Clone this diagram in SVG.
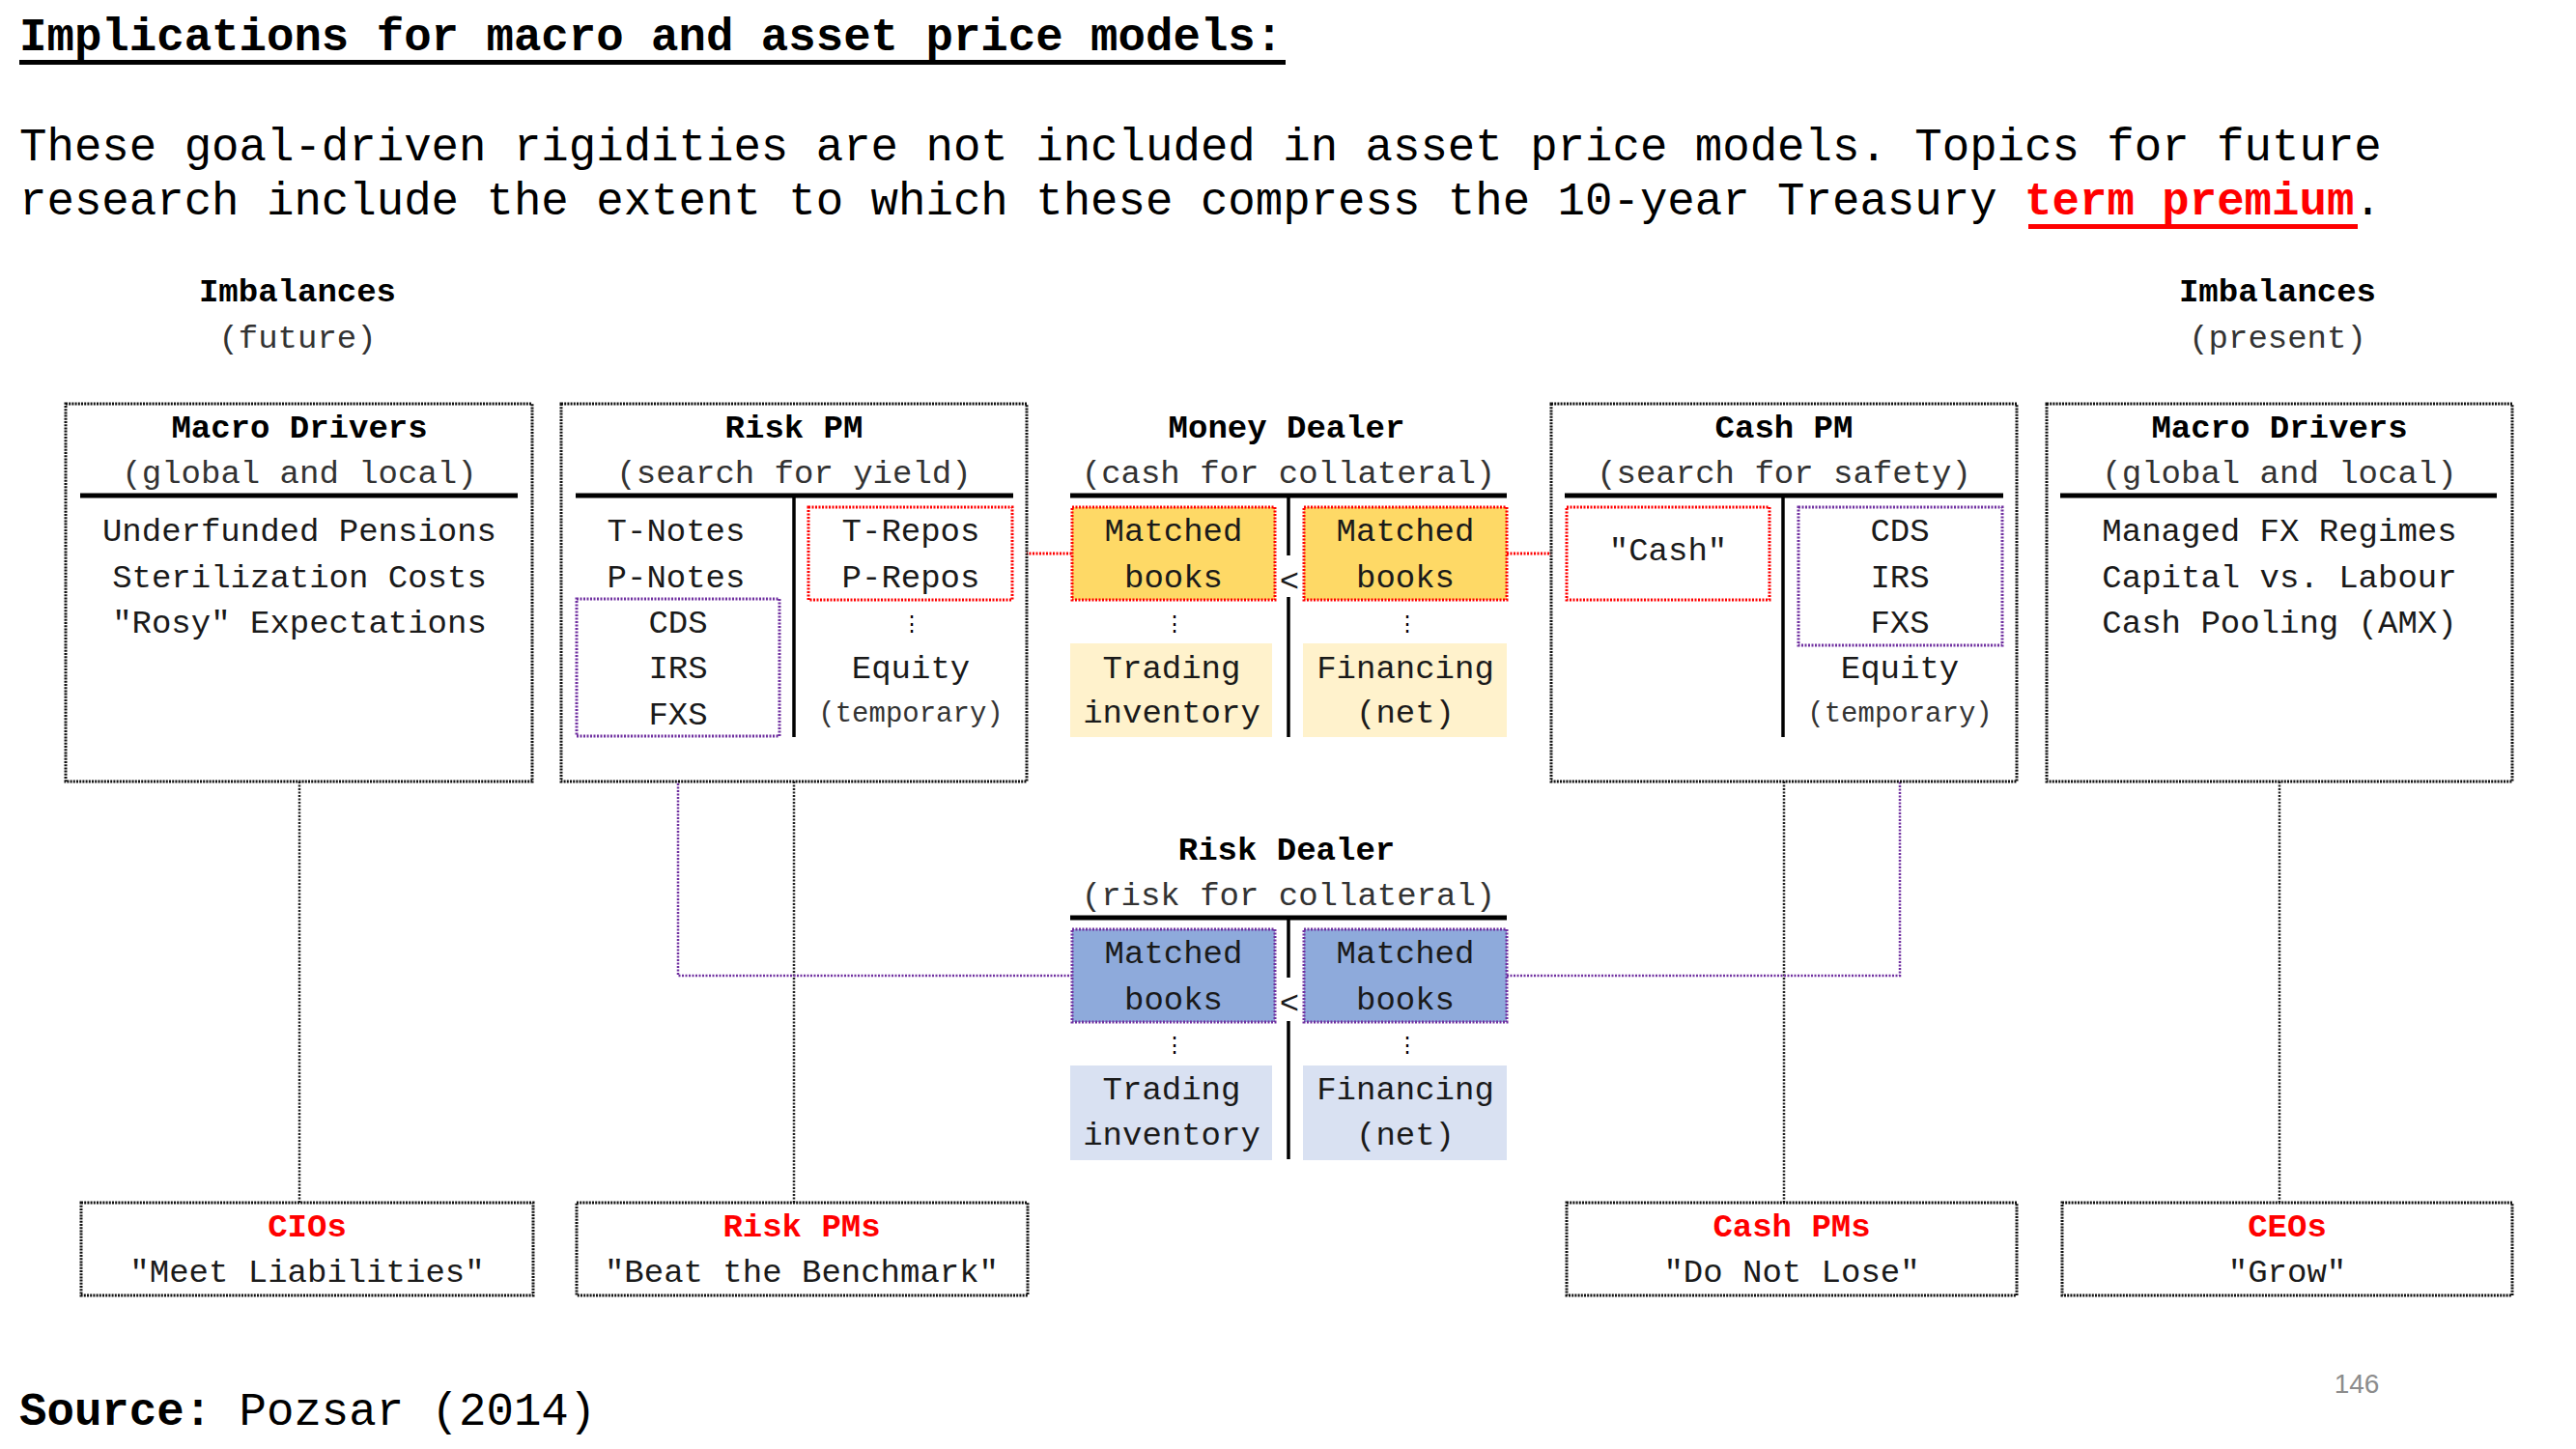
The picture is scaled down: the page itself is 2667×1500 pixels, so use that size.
<svg xmlns="http://www.w3.org/2000/svg" width="2667" height="1500" viewBox="0 0 2667 1500">
<style>
text{font-family:"Liberation Mono","Courier New",monospace;}
.h{font-size:47.4px;fill:#000;}
.n{font-size:34px;fill:#000;text-anchor:middle;font-weight:bold;}
.s{font-size:34px;fill:#333;text-anchor:middle;}
.c{font-size:34px;fill:#1a1a1a;text-anchor:middle;}
.sm{font-size:29px;fill:#333;text-anchor:middle;}
.r{font-size:34px;fill:#f00;text-anchor:middle;font-weight:bold;}
.dots{font-family:"DejaVu Sans Mono",monospace;font-size:22px;fill:#000;text-anchor:middle;}
.box{fill:#fff;stroke:#111;stroke-width:3;stroke-dasharray:2 1.2;}
.rbox{fill:none;stroke:#f00;stroke-width:3;stroke-dasharray:2 1.5;}
.pbox{fill:none;stroke:#7030a0;stroke-width:3;stroke-dasharray:2 1.5;}
.rule{stroke:#000;stroke-width:5;}
.div{stroke:#000;stroke-width:3.5;}
.gl{fill:none;stroke:#222;stroke-width:2.5;stroke-dasharray:2 1.5;}
.rl{fill:none;stroke:#f00;stroke-width:3;stroke-dasharray:2 1.5;}
.pl{fill:none;stroke:#7030a0;stroke-width:2.5;stroke-dasharray:2 1.5;}
</style>
<rect width="2667" height="1500" fill="#fff"/>

<g id="header">
<text x="20" y="52" class="h" font-weight="bold">Implications for macro and asset price models:</text>
<rect x="20" y="62" width="1311" height="5" fill="#000"/>
<text x="20" y="166" class="h">These goal-driven rigidities are not included in asset price models. Topics for future</text>
<text x="20" y="222" class="h">research include the extent to which these compress the 10-year Treasury <tspan fill="#f00" font-weight="bold">term premium</tspan>.</text>
<rect x="2100" y="232" width="341" height="5" fill="#f00"/>
<text x="308" y="312" class="n">Imbalances</text>
<text x="308" y="360" class="s">(future)</text>
<text x="2358" y="312" class="n">Imbalances</text>
<text x="2358" y="360" class="s">(present)</text>
</g>

<g id="connectors">
<line x1="310" y1="809" x2="310" y2="1245" class="gl"/>
<line x1="822" y1="809" x2="822" y2="1245" class="gl"/>
<line x1="1847" y1="809" x2="1847" y2="1245" class="gl"/>
<line x1="2360" y1="809" x2="2360" y2="1245" class="gl"/>
<line x1="1048" y1="573" x2="1110" y2="573" class="rl"/>
<line x1="1560" y1="573" x2="1622" y2="573" class="rl"/>
<polyline points="702,762 702,1010 1110,1010" class="pl"/>
<polyline points="1560,1010 1967,1010 1967,760" class="pl"/>
</g>

<g id="macro-future">
<rect x="68" y="418" width="483" height="391" class="box"/>
<text x="310" y="453" class="n">Macro Drivers</text>
<text x="310" y="500" class="s">(global and local)</text>
<line x1="83" y1="513" x2="536" y2="513" class="rule"/>
<text x="310" y="560" class="c">Underfunded Pensions</text>
<text x="310" y="608" class="c">Sterilization Costs</text>
<text x="310" y="655" class="c">"Rosy" Expectations</text>
</g>

<g id="risk-pm">
<rect x="581" y="418" width="482" height="391" class="box"/>
<text x="822" y="453" class="n">Risk PM</text>
<text x="822" y="500" class="s">(search for yield)</text>
<line x1="596" y1="513" x2="1049" y2="513" class="rule"/>
<line x1="822" y1="515" x2="822" y2="763" class="div"/>
<text x="700" y="560" class="c">T-Notes</text>
<text x="700" y="608" class="c">P-Notes</text>
<rect x="597" y="620" width="210" height="142" class="pbox"/>
<text x="702" y="655" class="c">CDS</text>
<text x="702" y="702" class="c">IRS</text>
<text x="702" y="750" class="c">FXS</text>
<rect x="837" y="525" width="211" height="96" class="rbox"/>
<text x="943" y="560" class="c">T-Repos</text>
<text x="943" y="608" class="c">P-Repos</text>
<text x="944" y="653" class="dots">⋮</text>
<text x="943" y="702" class="c">Equity</text>
<text x="943" y="747" class="sm">(temporary)</text>
</g>

<g id="money-dealer">
<text x="1332" y="453" class="n">Money Dealer</text>
<text x="1334" y="500" class="s">(cash for collateral)</text>
<line x1="1108" y1="513" x2="1560" y2="513" class="rule"/>
<line x1="1334" y1="515" x2="1334" y2="575" class="div"/>
<line x1="1334" y1="618" x2="1334" y2="763" class="div"/>
<text x="1335" y="612" class="c">&lt;</text>
<rect x="1110" y="525" width="210" height="96" fill="#fed966"/>
<rect x="1110" y="525" width="210" height="96" class="rbox"/>
<rect x="1350" y="525" width="210" height="96" fill="#fed966"/>
<rect x="1350" y="525" width="210" height="96" class="rbox"/>
<text x="1215" y="560" class="c">Matched</text>
<text x="1215" y="608" class="c">books</text>
<text x="1455" y="560" class="c">Matched</text>
<text x="1455" y="608" class="c">books</text>
<text x="1216" y="653" class="dots">⋮</text>
<text x="1457" y="653" class="dots">⋮</text>
<rect x="1108" y="666" width="209" height="97" fill="#fff2cc"/>
<rect x="1349" y="666" width="211" height="97" fill="#fff2cc"/>
<text x="1213" y="702" class="c">Trading</text>
<text x="1213" y="748" class="c">inventory</text>
<text x="1455" y="702" class="c">Financing</text>
<text x="1455" y="748" class="c">(net)</text>
</g>

<g id="cash-pm">
<rect x="1606" y="418" width="482" height="391" class="box"/>
<text x="1847" y="453" class="n">Cash PM</text>
<text x="1847" y="500" class="s">(search for safety)</text>
<line x1="1620" y1="513" x2="2074" y2="513" class="rule"/>
<line x1="1846" y1="515" x2="1846" y2="763" class="div"/>
<rect x="1622" y="525" width="210" height="96" class="rbox"/>
<text x="1727" y="580" class="c">"Cash"</text>
<rect x="1862" y="525" width="211" height="143" class="pbox"/>
<text x="1967" y="560" class="c">CDS</text>
<text x="1967" y="608" class="c">IRS</text>
<text x="1967" y="655" class="c">FXS</text>
<text x="1967" y="702" class="c">Equity</text>
<text x="1967" y="747" class="sm">(temporary)</text>
</g>

<g id="macro-present">
<rect x="2119" y="418" width="482" height="391" class="box"/>
<text x="2360" y="453" class="n">Macro Drivers</text>
<text x="2360" y="500" class="s">(global and local)</text>
<line x1="2133" y1="513" x2="2585" y2="513" class="rule"/>
<text x="2360" y="560" class="c">Managed FX Regimes</text>
<text x="2360" y="608" class="c">Capital vs. Labour</text>
<text x="2360" y="655" class="c">Cash Pooling (AMX)</text>
</g>

<g id="risk-dealer">
<text x="1332" y="890" class="n">Risk Dealer</text>
<text x="1334" y="937" class="s">(risk for collateral)</text>
<line x1="1108" y1="950" x2="1560" y2="950" class="rule"/>
<line x1="1334" y1="952" x2="1334" y2="1012" class="div"/>
<line x1="1334" y1="1057" x2="1334" y2="1200" class="div"/>
<text x="1335" y="1049" class="c">&lt;</text>
<rect x="1110" y="962" width="210" height="96" fill="#8eaadb"/>
<rect x="1110" y="962" width="210" height="96" class="pbox"/>
<rect x="1350" y="962" width="210" height="96" fill="#8eaadb"/>
<rect x="1350" y="962" width="210" height="96" class="pbox"/>
<text x="1215" y="997" class="c">Matched</text>
<text x="1215" y="1045" class="c">books</text>
<text x="1455" y="997" class="c">Matched</text>
<text x="1455" y="1045" class="c">books</text>
<text x="1216" y="1089" class="dots">⋮</text>
<text x="1457" y="1089" class="dots">⋮</text>
<rect x="1108" y="1103" width="209" height="98" fill="#d9e1f2"/>
<rect x="1349" y="1103" width="211" height="98" fill="#d9e1f2"/>
<text x="1213" y="1138" class="c">Trading</text>
<text x="1213" y="1185" class="c">inventory</text>
<text x="1455" y="1138" class="c">Financing</text>
<text x="1455" y="1185" class="c">(net)</text>
</g>

<g id="cios">
<rect x="84" y="1245" width="468" height="96" class="box"/>
<text x="318" y="1280" class="r">CIOs</text>
<text x="318" y="1327" class="c">"Meet Liabilities"</text>
</g>
<g id="risk-pms">
<rect x="597" y="1245" width="467" height="96" class="box"/>
<text x="830" y="1280" class="r">Risk PMs</text>
<text x="830" y="1327" class="c">"Beat the Benchmark"</text>
</g>
<g id="cash-pms">
<rect x="1622" y="1245" width="466" height="96" class="box"/>
<text x="1855" y="1280" class="r">Cash PMs</text>
<text x="1855" y="1327" class="c">"Do Not Lose"</text>
</g>
<g id="ceos">
<rect x="2135" y="1245" width="466" height="96" class="box"/>
<text x="2368" y="1280" class="r">CEOs</text>
<text x="2368" y="1327" class="c">"Grow"</text>
</g>

<g id="footer">
<text x="20" y="1475" class="h"><tspan font-weight="bold">Source:</tspan> Pozsar (2014)</text>
<text x="2440" y="1442" font-size="28" fill="#8c8c8c" text-anchor="middle" style="font-family:'Liberation Sans',Arial,sans-serif">146</text>
</g>
</svg>
